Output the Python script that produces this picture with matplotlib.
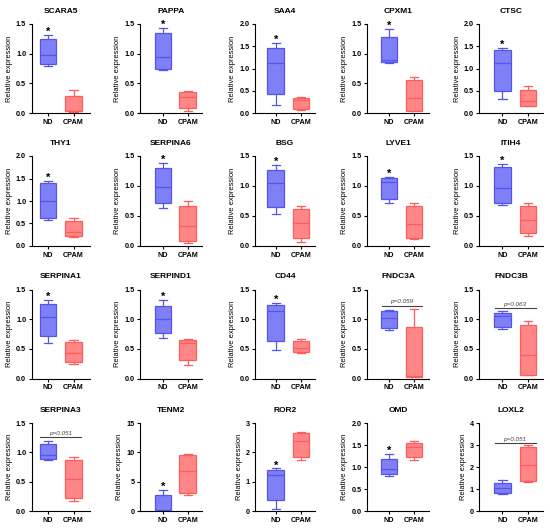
import numpy as np
import matplotlib
matplotlib.use('Agg')
import matplotlib.pyplot as plt

plt.rcParams['font.family'] = ['Liberation Sans', 'DejaVu Sans']
plt.rcParams['font.weight'] = 'bold'

genes = ['SCARA5', 'PAPPA', 'SAA4', 'CPXM1', 'CTSC',
         'THY1', 'SERPINA6', 'BSG', 'LYVE1', 'ITIH4',
         'SERPINA1', 'SERPIND1', 'CD44', 'FNDC3A', 'FNDC3B',
         'SERPINA3', 'TENM2', 'ROR2', 'OMD', 'LOXL2']
groups = ['ND', 'CPAM']

# whisker low, Q1, median, Q3, whisker high
nd = [[0.79, 0.83, 0.97, 1.24, 1.32],
      [0.73, 0.74, 0.94, 1.35, 1.44],
      [0.19, 0.42, 1.12, 1.45, 1.58],
      [0.85, 0.86, 0.89, 1.28, 1.42],
      [0.31, 0.49, 1.13, 1.42, 1.47],
      [0.57, 0.62, 1.00, 1.39, 1.45],
      [0.64, 0.71, 0.99, 1.30, 1.38],
      [0.54, 0.65, 1.05, 1.27, 1.35],
      [0.71, 0.78, 1.06, 1.14, 1.15],
      [0.69, 0.71, 0.96, 1.31, 1.37],
      [0.60, 0.71, 1.03, 1.25, 1.32],
      [0.68, 0.76, 1.00, 1.23, 1.32],
      [0.48, 0.64, 1.13, 1.24, 1.27],
      [0.82, 0.85, 1.02, 1.14, 1.15],
      [0.83, 0.87, 1.06, 1.10, 1.13],
      [0.87, 0.89, 0.96, 1.14, 1.20],
      [0.0, 0.0, 0.11, 2.66, 3.57],
      [0.07, 0.36, 1.24, 1.39, 1.45],
      [0.79, 0.85, 0.96, 1.19, 1.29],
      [0.78, 0.84, 1.03, 1.27, 1.42]]
cpam = [[0.02, 0.03, 0.04, 0.29, 0.39],
        [0.04, 0.09, 0.27, 0.35, 0.37],
        [0.07, 0.08, 0.30, 0.34, 0.37],
        [0.03, 0.04, 0.26, 0.56, 0.60],
        [0.16, 0.165, 0.26, 0.52, 0.61],
        [0.20, 0.22, 0.30, 0.56, 0.63],
        [0.05, 0.085, 0.335, 0.67, 0.75],
        [0.07, 0.135, 0.385, 0.61, 0.665],
        [0.11, 0.14, 0.36, 0.66, 0.72],
        [0.17, 0.22, 0.43, 0.66, 0.72],
        [0.25, 0.275, 0.43, 0.62, 0.65],
        [0.225, 0.315, 0.60, 0.65, 0.66],
        [0.43, 0.445, 0.52, 0.64, 0.67],
        [0.03, 0.03, 0.045, 0.87, 1.17],
        [0.055, 0.055, 0.40, 0.90, 0.965],
        [0.17, 0.23, 0.55, 0.865, 0.92],
        [2.66, 3.06, 6.79, 9.56, 9.73],
        [1.75, 1.84, 2.375, 2.67, 2.69],
        [1.15, 1.23, 1.45, 1.55, 1.60],
        [1.30, 1.35, 2.10, 2.91, 2.98]]

y_top = [1.5, 1.5, 2.0, 1.5, 2.0,
         2.0, 1.5, 1.5, 1.5, 1.5,
         1.5, 1.5, 1.5, 1.5, 1.5,
         1.5, 15, 3, 2.0, 4]
y_step = [0.5, 0.5, 0.5, 0.5, 0.5,
          0.5, 0.5, 0.5, 0.5, 0.5,
          0.5, 0.5, 0.5, 0.5, 0.5,
          0.5, 5, 1, 0.5, 1]
marks = ['*', '*', '*', '*', '*',
         '*', '*', '*', '*', '*',
         '*', '*', '*', 'p=0.059', 'p=0.063',
         'p=0.051', '*', '*', '*', 'p=0.051']
p_bar = [None] * 13 + [1.23, 1.18, 1.26, None, None, None, 3.1]

W, H = 550, 528
# pixel layout: y spine, ND centre, CPAM centre, right end
cols = [(31.7, 48, 73.6, 90), (140, 162.8, 187.7, 201.7),
        (255, 275.7, 300.8, 315), (367, 389, 414, 429),
        (479.3, 502.3, 528, 543)]
rows = [(24, 113), (156, 246), (289.5, 378.5), (423, 511)]

nd_face, nd_edge = '#7f7ff6', '#5555ee'
cp_face, cp_edge = '#ff8686', '#ff5c5c'

fig = plt.figure(figsize=(W/100, H/100), dpi=100)

for i, g in enumerate(genes):
    r, c = divmod(i, 5)
    sx, ndx, cpx, rx = cols[c]
    top, bot = rows[r]
    ax = fig.add_axes([sx/W, 1-bot/H, (rx-sx)/W, (bot-top)/H])
    s = cpx - ndx
    ax.set_xlim(1-(ndx-sx)/s, 2+(rx-cpx)/s)

    stats = []
    for vals, lab in zip([nd[i], cpam[i]], groups):
        lo, q1, med, q3, hi = vals
        stats.append(dict(whislo=lo, q1=q1, med=med, q3=q3, whishi=hi, label=lab))
    bp = ax.bxp(stats, positions=[1, 2], widths=0.66, capwidths=0.33,
                patch_artist=True, showfliers=False)
    for k, (fc, ec) in enumerate([(nd_face, nd_edge), (cp_face, cp_edge)]):
        bp['boxes'][k].set_facecolor(fc)
        bp['boxes'][k].set_edgecolor(ec)
        bp['boxes'][k].set_linewidth(0.9)
        bp['medians'][k].set_color(ec)
        bp['medians'][k].set_linewidth(0.9)
        for ln in bp['whiskers'][2*k:2*k+2] + bp['caps'][2*k:2*k+2]:
            ln.set_color(ec)
            ln.set_linewidth(0.9)

    ax.set_ylim(0, y_top[i])
    ticks = np.arange(0, y_top[i] + y_step[i]/2, y_step[i])
    ax.set_yticks(ticks)
    if y_step[i] >= 1:
        ax.set_yticklabels(['%d' % t for t in ticks])
    else:
        ax.set_yticklabels(['%.1f' % t for t in ticks])
    ax.set_xticks([1, 2])
    ax.set_xticklabels(groups)
    for sp in ['top', 'right']:
        ax.spines[sp].set_visible(False)
    for sp in ['left', 'bottom']:
        ax.spines[sp].set_linewidth(0.8)
    ax.tick_params(labelsize=5.2, length=2.5, width=0.8, pad=1.5)
    ax.set_ylabel('Relative expression', fontsize=5.4, labelpad=2)
    ax.set_title(g, fontsize=6, pad=8, fontweight='bold')

    if marks[i] == '*':
        ax.text(1, nd[i][4], '*', ha='center', va='baseline', fontsize=8)
    else:
        ax.plot([0.7, 2.3], [p_bar[i], p_bar[i]], color='#444444', lw=0.8, clip_on=False)
        ax.annotate(marks[i], (1.5, p_bar[i]), xytext=(0, 1.5), textcoords='offset points',
                    ha='center', va='baseline', fontsize=4.6, style='italic',
                    fontweight='normal', color='#444444')

plt.savefig('out.png', dpi=100)
plt.close()
